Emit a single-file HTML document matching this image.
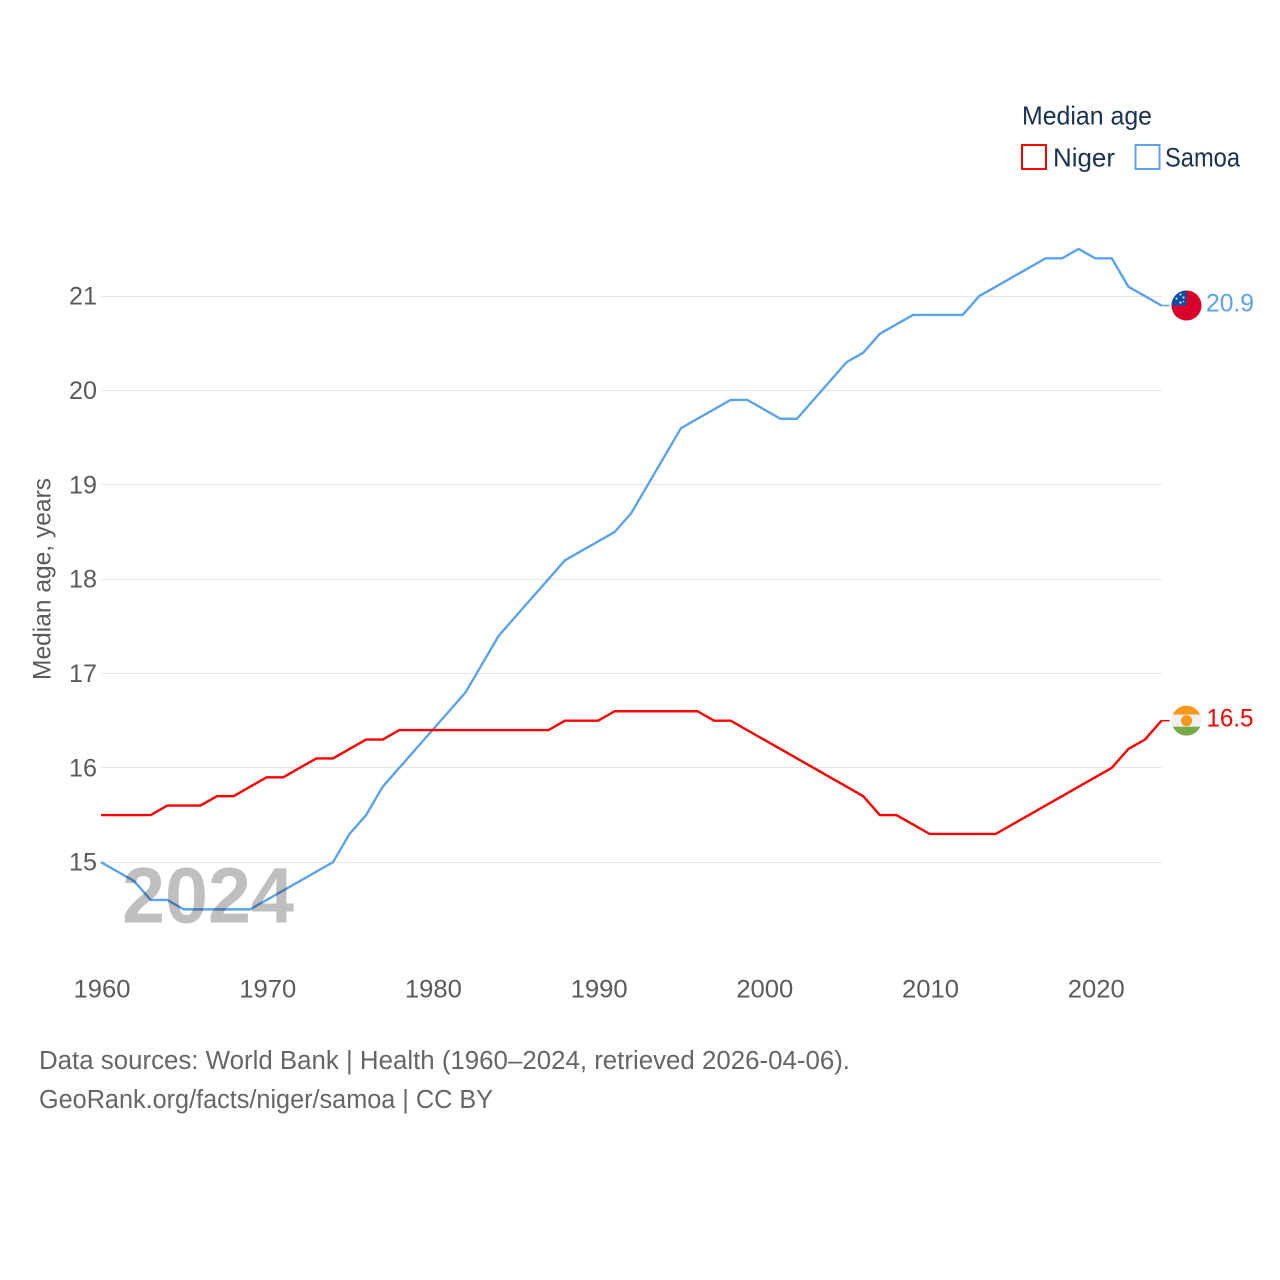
<!DOCTYPE html>
<html lang="en">
<head>
<meta charset="utf-8">
<title>Median age: Niger and Samoa</title>
<style>
html,body{margin:0;padding:0;background:#fff;}
svg{display:block;font-family:"Liberation Sans",sans-serif;}
</style>
</head>
<body>
<svg id="chart" xmlns="http://www.w3.org/2000/svg" width="1280" height="1280" viewBox="0 0 1280 1280">
  <defs>
    <clipPath id="flag-clip-samoa"><circle cx="15" cy="15" r="15"></circle></clipPath>
    <clipPath id="flag-clip-niger"><circle cx="15" cy="15" r="15"></circle></clipPath>
  </defs>
  <rect width="1280" height="1280" fill="#fff"></rect>
  <g id="grid"></g>
  <g id="y-ticks"></g>
  <g id="x-ticks"></g>
  <text transform="translate(50.5,680) rotate(-90)" font-size="25" fill="#5b5b5b" textLength="202" lengthAdjust="spacingAndGlyphs">Median age, years</text>
  <g id="series"></g>
  <text x="122" y="922.5" font-size="79" font-weight="700" fill="#000" fill-opacity="0.25" textLength="172" lengthAdjust="spacingAndGlyphs">2024</text>
  <g id="ends"></g>
  <g>
    <text x="1022" y="124.5" font-size="26" fill="#18324f" textLength="130" lengthAdjust="spacingAndGlyphs">Median age</text>
    <rect x="1022" y="145" width="24" height="24" fill="none" stroke="#ff0000" stroke-width="2"></rect>
    <text x="1053" y="166.5" font-size="26" fill="#18324f" textLength="62" lengthAdjust="spacingAndGlyphs">Niger</text>
    <rect x="1135.5" y="145" width="24" height="24" fill="none" stroke="#5ba4ec" stroke-width="2"></rect>
    <text x="1165" y="166.5" font-size="27" fill="#18324f" textLength="75" lengthAdjust="spacingAndGlyphs">Samoa</text>
  </g>
  <g>
    <text x="39" y="1069" font-size="25.5" fill="#666" textLength="811" lengthAdjust="spacingAndGlyphs">Data sources: World Bank | Health (1960–2024, retrieved 2026-04-06).</text>
    <text x="39" y="1108" font-size="25.5" fill="#666" textLength="454" lengthAdjust="spacingAndGlyphs">GeoRank.org/facts/niger/samoa | CC BY</text>
  </g>
</svg>
<script>
const years = [1960,1961,1962,1963,1964,1965,1966,1967,1968,1969,1970,1971,1972,1973,1974,1975,1976,1977,1978,1979,1980,1981,1982,1983,1984,1985,1986,1987,1988,1989,1990,1991,1992,1993,1994,1995,1996,1997,1998,1999,2000,2001,2002,2003,2004,2005,2006,2007,2008,2009,2010,2011,2012,2013,2014,2015,2016,2017,2018,2019,2020,2021,2022,2023,2024];
const nigerValues = [15.5,15.5,15.5,15.5,15.6,15.6,15.6,15.7,15.7,15.8,15.9,15.9,16.0,16.1,16.1,16.2,16.3,16.3,16.4,16.4,16.4,16.4,16.4,16.4,16.4,16.4,16.4,16.4,16.5,16.5,16.5,16.6,16.6,16.6,16.6,16.6,16.6,16.5,16.5,16.4,16.3,16.2,16.1,16.0,15.9,15.8,15.7,15.5,15.5,15.4,15.3,15.3,15.3,15.3,15.3,15.4,15.5,15.6,15.7,15.8,15.9,16.0,16.2,16.3,16.5];
const samoaValues = [15.0,14.9,14.8,14.6,14.6,14.5,14.5,14.5,14.5,14.5,14.6,14.7,14.8,14.9,15.0,15.3,15.5,15.8,16.0,16.2,16.4,16.6,16.8,17.1,17.4,17.6,17.8,18.0,18.2,18.3,18.4,18.5,18.7,19.0,19.3,19.6,19.7,19.8,19.9,19.9,19.8,19.7,19.7,19.9,20.1,20.3,20.4,20.6,20.7,20.8,20.8,20.8,20.8,21.0,21.1,21.2,21.3,21.4,21.4,21.5,21.4,21.4,21.1,21.0,20.9];
const yTickValues = [15,16,17,18,19,20,21];
const xTickValues = [1960,1970,1980,1990,2000,2010,2020];

const NS = 'http://www.w3.org/2000/svg';
const xScale = function (year) { return 101 + (year - 1960) * (1060.5 / 64); };
const yScale = function (value) { return 862.2 - (value - 15) * 94.35; };
const make = function (tag, attrs, parent) {
  const el = document.createElementNS(NS, tag);
  for (const key in attrs) { el.setAttribute(key, attrs[key]); }
  parent.appendChild(el);
  return el;
};

const gridGroup = document.getElementById('grid');
const yTickGroup = document.getElementById('y-ticks');
yTickValues.forEach(function (v) {
  const y = yScale(v);
  const line = make('line', {x1: 101, x2: 1161.5, y1: Math.floor(y) + 0.5, y2: Math.floor(y) + 0.5, stroke: '#e6e6e6', 'stroke-width': 1}, gridGroup);
  
  
  const label = make('text', {x: 69, y: y + 8.5, 'font-size': 25, fill: '#5b5b5b', textLength: 28, lengthAdjust: 'spacingAndGlyphs'}, yTickGroup);
  label.textContent = String(v);
  
  
});

const xTickGroup = document.getElementById('x-ticks');
xTickValues.forEach(function (yr) {
  const label = make('text', {x: xScale(yr) - 27.5, y: 997.5, 'font-size': 25, fill: '#5b5b5b', textLength: 57, lengthAdjust: 'spacingAndGlyphs'}, xTickGroup);
  label.textContent = String(yr);
  
  
});

const seriesGroup = document.getElementById('series');
const pointsFor = function (values) {
  return values.map(function (v, i) { return xScale(years[i]).toFixed(2) + ',' + yScale(v).toFixed(2); }).join(' ');
};
const drawSeries = function (values, color) {
  const line = make('polyline', {points: pointsFor(values), fill: 'none', stroke: color, 'stroke-width': 2.4, 'stroke-linejoin': 'round'}, seriesGroup);
  return line;
};
const samoaLine = drawSeries(samoaValues, '#5ba4ec');


const nigerLine = drawSeries(nigerValues, '#ff0000');



const endGroup = document.getElementById('ends');
const lastIndex = years.length - 1;
const drawEnd = function (values, color, textX, textW) {
  const y = yScale(values[lastIndex]);
  const x = xScale(years[lastIndex]);
  const connector = make('line', {x1: x, x2: x + 8, y1: y, y2: y, stroke: color, 'stroke-width': 1.5}, endGroup);
  const flag = make('g', {transform: 'translate(1171.5,' + (y - 15) + ')'}, endGroup);
  const label = make('text', {x: textX, y: y + 6, 'font-size': 25, fill: color, textLength: textW, lengthAdjust: 'spacingAndGlyphs'}, endGroup);
  label.textContent = values[lastIndex].toFixed(1);
  return {connector: connector, flag: flag, label: label};
};

const samoaEnd = drawEnd(samoaValues, '#5ba4ec', 1206, 48);






samoaEnd.flag.setAttribute('clip-path', 'url(#flag-clip-samoa)');
make('rect', {x: 0, y: 0, width: 30, height: 30, fill: '#d8002b'}, samoaEnd.flag);
make('rect', {x: 0, y: 0, width: 15, height: 15, fill: '#0a4ca8'}, samoaEnd.flag);
[[9, 4, 1.1], [12, 7, 1.1], [5, 8, 1.1], [9, 12, 1.2], [12, 11, 0.7]].forEach(function (s) {
  make('circle', {cx: s[0], cy: s[1], r: s[2], fill: '#dfe8f5'}, samoaEnd.flag);
});

const nigerEnd = drawEnd(nigerValues, '#ff0000', 1206.5, 47);






nigerEnd.flag.setAttribute('clip-path', 'url(#flag-clip-niger)');
make('rect', {x: 0, y: 0, width: 30, height: 9, fill: '#f7981d'}, nigerEnd.flag);
make('rect', {x: 0, y: 9, width: 30, height: 12, fill: '#f0f0f0'}, nigerEnd.flag);
make('rect', {x: 0, y: 21, width: 30, height: 9, fill: '#78a94d'}, nigerEnd.flag);
make('circle', {cx: 15, cy: 15, r: 5.5, fill: '#f7981d'}, nigerEnd.flag);
</script>
</body>
</html>
